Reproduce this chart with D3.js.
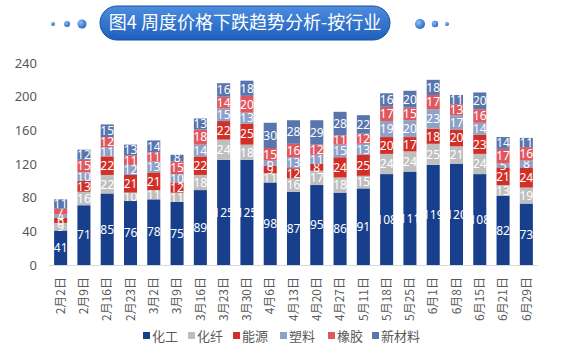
<!DOCTYPE html>
<html>
<head>
<meta charset="utf-8">
<script src="https://cdn.jsdelivr.net/npm/d3@7"></script>
<style>
  body { margin: 0; background: #fff; }
  text { font-family: "Noto Sans CJK SC", "Noto Sans", sans-serif; }
</style>
</head>
<body>
<div id="ChartContainer"></div>
<script>
var weeks = ["2月2日", "2月9日", "2月16日", "2月23日", "3月2日", "3月9日", "3月16日",
  "3月23日", "3月30日", "4月6日", "4月13日", "4月20日", "4月27日", "5月11日",
  "5月18日", "5月25日", "6月1日", "6月8日", "6月15日", "6月21日", "6月29日"]
var seriesNames = ["化工", "化纤", "能源", "塑料", "橡胶", "新材料"]
var huagong = [41, 71, 85, 76, 78, 75, 89, 125, 125, 98, 87, 95, 86, 91, 108, 111, 119, 120, 108, 82, 73]
var huaxian = [9, 16, 22, 10, 11, 11, 18, 24, 18, 11, 16, 17, 18, 15, 24, 24, 25, 21, 24, 13, 19]
var nengyuan = [6, 13, 22, 21, 21, 12, 22, 22, 25, 9, 12, 8, 24, 25, 20, 17, 18, 20, 23, 21, 24]
var suliao = [4, 10, 11, 12, 13, 10, 14, 15, 13, 6, 13, 11, 15, 13, 19, 20, 23, 17, 14, 5, 8]
var xiangjiao = [7, 15, 12, 11, 11, 15, 18, 14, 20, 15, 16, 12, 11, 12, 17, 15, 17, 13, 16, 17, 16]
var xincailiao = [11, 12, 15, 13, 14, 8, 13, 16, 18, 30, 28, 29, 28, 22, 16, 20, 18, 11, 20, 14, 11]
var yTicks = [0, 40, 80, 120, 160, 200, 240]
var colors = ["#173f8c", "#bfbfbf", "#d12f27", "#8ea1c6", "#e0585f", "#5875ad"]

var allSeries = [huagong, huaxian, nengyuan, suliao, xiangjiao, xincailiao]

var fullWidth = 570
var fullHeight = 352

var svg = d3.select("#ChartContainer").append("svg")
  .attr("width", fullWidth)
  .attr("height", fullHeight)

// Title pill
var defs = svg.append("defs")
var grad = defs.append("linearGradient")
  .attr("id", "pillGrad")
  .attr("x1", 0).attr("y1", 0).attr("x2", 0).attr("y2", 1)
grad.append("stop").attr("offset", "0%").attr("stop-color", "#4d8ddf")
grad.append("stop").attr("offset", "100%").attr("stop-color", "#1d5fbd")
var dotGrad = defs.append("radialGradient")
  .attr("id", "dotGrad")
  .attr("cx", "35%").attr("cy", "35%").attr("r", "70%")
dotGrad.append("stop").attr("offset", "0%").attr("stop-color", "#8fbcf2")
dotGrad.append("stop").attr("offset", "100%").attr("stop-color", "#2466c4")

svg.append("rect")
  .attr("x", 100)
  .attr("y", 6)
  .attr("width", 290)
  .attr("height", 34)
  .attr("rx", 17)
  .attr("ry", 17)
  .attr("fill", "url(#pillGrad)")
  .attr("stroke", "#1b4f9e")
  .attr("stroke-width", 1)

svg.append("text")
  .attr("x", 245)
  .attr("y", 23)
  .attr("dy", "0.36em")
  .attr("text-anchor", "middle")
  .attr("fill", "#fff")
  .attr("font-size", 18)
  .text("图4 周度价格下跌趋势分析-按行业")

var dots = [[53, 2], [67, 3], [82, 4.5], [420, 5], [435, 3.2], [447, 2]]
svg.selectAll(".Dot")
  .data(dots)
  .enter().append("circle")
  .attr("class", "Dot")
  .attr("cx", d => d[0])
  .attr("cy", 24)
  .attr("r", d => d[1])
  .attr("fill", "url(#dotGrad)")

// scales
var x = d3.scaleBand()
  .domain(weeks)
  .range([49, 538])
  .paddingInner(0.44)
  .paddingOuter(0.22)
var y = d3.scaleLinear()
  .domain([0, 240])
  .range([265, 63])

var rows = weeks.map((w, i) => {
  var row = {week: w}
  seriesNames.forEach((s, j) => { row[s] = allSeries[j][i] })
  return row
})
var stacked = d3.stack().keys(seriesNames)(rows)

// y-axis labels
svg.append("g")
  .attr("class", "axis axis-y")
  .attr("transform", "translate(45,0)")
  .call(d3.axisLeft(y).tickValues(yTicks).tickSize(0).tickPadding(8))
  .call(g => g.select(".domain").remove())
  .selectAll("text")
  .attr("fill", "#595959")
  .attr("font-size", 13)
  .style("font-family", "'Noto Sans', sans-serif")

// bars
var layer = svg.selectAll(".Layer")
  .data(stacked)
  .enter().append("g")
  .attr("class", "Layer")
  .attr("fill", (d, i) => colors[i])

layer.selectAll("rect")
  .data(d => d)
  .enter().append("rect")
  .attr("x", d => x(d.data.week))
  .attr("y", d => y(d[1]))
  .attr("width", x.bandwidth())
  .attr("height", d => y(d[0]) - y(d[1]))

// value labels
layer.selectAll(".ValueLabel")
  .data(d => d.map(v => ({v: v, key: d.key})))
  .enter().append("text")
  .attr("class", "ValueLabel")
  .attr("x", d => x(d.v.data.week) + x.bandwidth() / 2)
  .attr("y", d => y((d.v[0] + d.v[1]) / 2))
  .attr("dy", "0.36em")
  .attr("text-anchor", "middle")
  .attr("fill", "#fff")
  .attr("font-size", 12)
  .style("font-family", "'Liberation Sans Narrow', 'Noto Sans', sans-serif")
  .text(d => d.v.data[d.key])

// x-axis
var xAxis = svg.append("g")
  .attr("class", "axis axis-x")
  .attr("transform", "translate(0,265)")
  .call(d3.axisBottom(x).tickSize(0).tickPadding(0))
xAxis.select(".domain")
  .attr("stroke", "#d9d9d9")
  .attr("d", "M49,0.5H538")
xAxis.selectAll("text")
  .attr("fill", "#595959")
  .attr("font-size", 12)
  .attr("text-anchor", "end")
  .attr("transform", "translate(0,12) rotate(-90)")
  .attr("x", 0)
  .attr("y", 0)
  .attr("dy", "0.35em")

// legend
var legendX = [143, 188, 233, 280, 328, 372]
var legend = svg.selectAll(".Legend")
  .data(seriesNames)
  .enter().append("g")
  .attr("class", "Legend")
  .attr("transform", (d, i) => `translate(${legendX[i]},336)`)
legend.append("rect")
  .attr("x", 0)
  .attr("y", -4)
  .attr("width", 7)
  .attr("height", 7)
  .attr("fill", (d, i) => colors[i])
legend.append("text")
  .attr("x", 9)
  .attr("y", 0)
  .attr("dy", "0.35em")
  .attr("fill", "#595959")
  .attr("font-size", 13)
  .text(d => d)
</script>
</body>
</html>
